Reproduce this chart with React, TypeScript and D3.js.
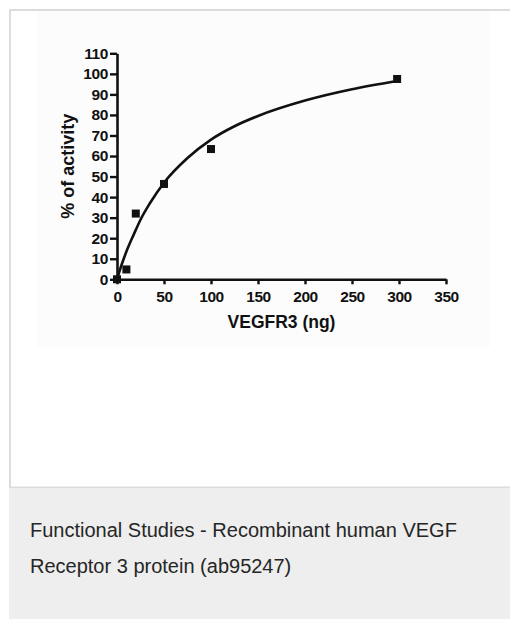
import React, { useEffect, useRef } from 'react';
import * as d3 from 'd3';

// measured points (VEGFR3 ng, % of activity)
const doseNg = [0, 10, 20, 50, 100, 298];
const activityPct = [0, 4.8, 32, 46.4, 63.4, 97.5];

// fitted curve
const curveX = [0, 5, 10, 18, 25, 35, 50, 75, 100, 125, 150, 200, 250, 298];
const curveY = [0, 7.2, 13.5, 22, 29, 37, 47, 59, 68, 74.5, 79.5, 87, 92.5, 96.5];

const xTicks = [0, 50, 100, 150, 200, 250, 300, 350];
const yTicks = [0, 10, 20, 30, 40, 50, 60, 70, 80, 90, 100, 110];

const xTitle = 'VEGFR3 (ng)';
const yTitle = '% of activity';
const captionLines = ['Functional Studies - Recombinant human VEGF', 'Receptor 3 protein (ab95247)'];

const FONT = '"Liberation Sans", Arial, Helvetica, sans-serif';

const App = () => {
    const chartRef = useRef<SVGSVGElement>(null);

    useEffect(() => {
        drawChart();
    }, []);

    const drawChart = () => {
        const svg = d3.select(chartRef.current);
        svg.selectAll('*').remove();

        // page frame: white card + grey caption strip
        svg.append('rect').attr('x', 0).attr('y', 0).attr('width', 510).attr('height', 619).attr('fill', '#ffffff');
        svg.append('rect').attr('x', 9).attr('y', 9).attr('width', 501).attr('height', 479).attr('fill', '#dcdcdc');
        svg.append('rect').attr('x', 11).attr('y', 11).attr('width', 499).attr('height', 475.5).attr('fill', '#ffffff');
        svg.append('rect').attr('x', 37).attr('y', 11).attr('width', 453).attr('height', 336).attr('fill', '#fcfcfc');
        svg.append('rect').attr('x', 9).attr('y', 488).attr('width', 501).attr('height', 131).attr('fill', '#edeeed');

        svg.selectAll('.caption')
            .data(captionLines)
            .enter().append('text')
            .attr('class', 'caption')
            .attr('x', 30)
            .attr('y', (d, i) => 537 + i * 36)
            .attr('font-family', FONT)
            .attr('font-size', 20)
            .attr('fill', '#262626')
            .text(d => d);

        const x = d3.scaleLinear().domain([0, 350]).range([117, 446]);
        const y = d3.scaleLinear().domain([0, 110]).range([279.3, 53.3]);

        const xAxis = svg.append('g')
            .attr('transform', `translate(0,${y(0)})`)
            .call(d3.axisBottom(x).tickValues(xTicks).tickSize(5).tickPadding(7).tickSizeOuter(0));
        const yAxis = svg.append('g')
            .attr('transform', `translate(${x(0)},0)`)
            .call(d3.axisLeft(y).tickValues(yTicks).tickSize(7).tickPadding(2).tickSizeOuter(0));

        [xAxis, yAxis].forEach(g => {
            g.select('.domain').attr('stroke', '#111').attr('stroke-width', 2.6);
            g.selectAll('.tick line').attr('stroke', '#111').attr('stroke-width', 2.4);
            g.selectAll('.tick text')
                .attr('fill', '#111')
                .attr('font-family', FONT)
                .attr('font-weight', 'bold')
                .attr('font-size', 15.5)
                .attr('letter-spacing', -0.4);
        });

        svg.append('text')
            .attr('x', (x(0) + x(350)) / 2)
            .attr('y', 328)
            .attr('text-anchor', 'middle')
            .attr('font-family', FONT)
            .attr('font-weight', 'bold')
            .attr('font-size', 17.5)
            .attr('fill', '#111')
            .text(xTitle);

        svg.append('text')
            .attr('transform', `translate(74,${(y(0) + y(110)) / 2}) rotate(-90)`)
            .attr('text-anchor', 'middle')
            .attr('font-family', FONT)
            .attr('font-weight', 'bold')
            .attr('font-size', 18)
            .attr('fill', '#111')
            .text(yTitle);

        const line = d3.line<number>()
            .x((d, i) => x(curveX[i]))
            .y(d => y(d))
            .curve(d3.curveMonotoneX);

        svg.append('path')
            .datum(curveY)
            .attr('d', line)
            .attr('fill', 'none')
            .attr('stroke', '#111')
            .attr('stroke-width', 2.6);

        const s = 8;
        svg.selectAll('.dot')
            .data(doseNg)
            .enter().append('rect')
            .attr('class', 'dot')
            .attr('x', d => x(d) - s / 2)
            .attr('y', (d, i) => y(activityPct[i]) - s / 2)
            .attr('width', s)
            .attr('height', s)
            .attr('fill', '#111');
    };

    return (
        <svg
            ref={chartRef}
            width={510}
            height={619}
            style={{ position: 'absolute', left: 0, top: 0, display: 'block' }}
        />
    );
};

export default App;
